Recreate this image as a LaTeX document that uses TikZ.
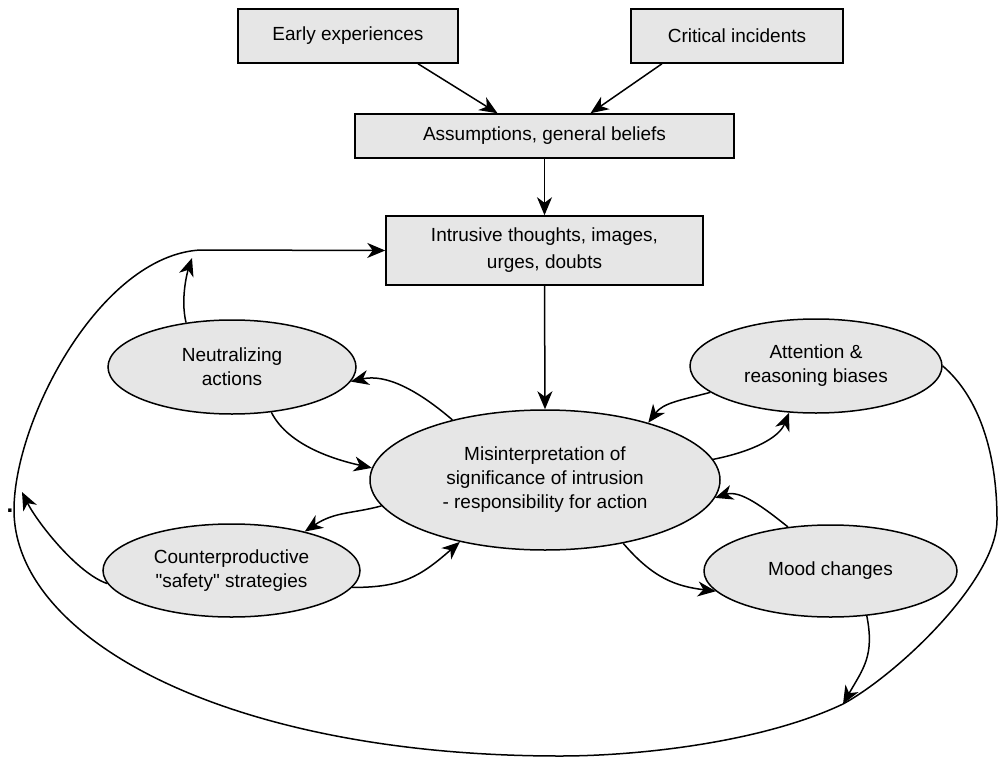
\documentclass[tikz,border=0pt]{standalone}
\usepackage{fontspec}
% a family without TeX ligatures keeps straight double quotes
\newfontfamily\plainsans{Liberation Sans}
\usetikzlibrary{arrows.meta,shapes.geometric,calc}
\definecolor{boxfill}{RGB}{230,230,230}
\begin{document}
\begin{tikzpicture}[x=1pt,y=-1pt,
  font=\plainsans\fontsize{19}{24}\selectfont,
  line width=1.5pt,
  >={Stealth[length=18pt,width=15pt,inset=5.5pt]},
  stepbox/.style={draw, fill=boxfill, rectangle, inner sep=0pt, align=center},
  bubble/.style={draw, fill=boxfill, ellipse, inner sep=0pt, align=center},
  link/.style={->}]
\useasboundingbox (0,0) rectangle (998,757);

% boxes
\node[stepbox, minimum width=220pt, minimum height=54pt] (early) at (348,36) {Early experiences};
\node[stepbox, minimum width=212pt, minimum height=54pt] (crit) at (737,36) {Critical incidents};
\node[stepbox, minimum width=379pt, minimum height=44pt] (assump) at (544.5,136) {Assumptions, general beliefs};
\node[stepbox, minimum width=317pt, minimum height=69pt,
      font=\plainsans\fontsize{19}{27}\selectfont] (intr) at (544.5,250.5) {Intrusive thoughts, images,\\urges, doubts};

% ellipses
\node[bubble, minimum width=248pt, minimum height=94pt] (neut) at (232,367) {Neutralizing\\actions};
\node[bubble, minimum width=252pt, minimum height=94pt] (att) at (816,366) {Attention \&\\reasoning biases};
\node[bubble, minimum width=350pt, minimum height=140pt] (mis) at (545,480) {Misinterpretation of\\significance of intrusion\\- responsibility for action};
\node[bubble, minimum width=257pt, minimum height=93pt] (cp) at (231.5,570.5) {Counterproductive\\"safety" strategies};
\node[bubble, minimum width=253pt, minimum height=92pt] (mood) at (830.5,571) {Mood changes};

\node[inner sep=0pt, font=\plainsans\bfseries\fontsize{24}{24}\selectfont] (dot) at (10,511) {.};

% points on the outer loop
\coordinate (l1) at (997,520);
\coordinate (l2) at (843,704);
\coordinate (l3) at (560,756);
\coordinate (l4) at (14,510);
\coordinate (l5) at (200,250);
\coordinate (nt) at (192,258);
\coordinate (ct) at (22,492);

% top part
\draw[link] ($(early.south)+(70,0)$) -- ($(assump.north)+(-47,0)$);
\draw[link] ($(crit.south)+(-75,0)$) -- ($(assump.north)+(46,0)$);
\draw[link] (assump.south) -- (intr.north);
\draw[link] (intr.south) -- (mis.north);

% around the central ellipse
\draw[link] (mis.147.7) .. controls +(-35,-30) and +(35,-8) .. (neut.-7);
\draw[link] (neut.-49.8) .. controls +(15,30) and +(-45,-10) .. (mis.176.4);
\draw[link] (mis.-171.2) .. controls +(-30,8) and +(30,-20) .. (cp.28.3);
\draw[link] (cp.-8.2) .. controls +(50,0) and +(-40,35) .. (mis.-144.7);
\draw[link] (att.-166.6) .. controls +(-30,8) and +(15,-20) .. (mis.29.6);
\draw[link] (mis.7.5) .. controls +(40,-8) and +(-10,25) .. (att.-120.6);
\draw[link] (mood.134.7) .. controls +(-25,-20) and +(25,-8) .. (mis.-6.2);
\draw[link] (mis.-39.6) .. controls +(30,35) and +(-40,-5) .. (mood.-170.7);

% outer loop back to the intrusions
\draw[link] (att.east) .. controls +(35,30) and +(0,-70) .. (l1)
  .. controls +(0,60) and +(55,-30) .. (l2)
  .. controls +(-80,38) and +(80,0) .. (l3)
  .. controls +(-330,0) and +(0,130) .. (l4)
  .. controls +(0,-90) and +(-100,6) .. (l5)
  -- (intr.west);

% feeding into the loop
\draw[link] (mood.-51.6) .. controls +(8,40) and +(20,-35) .. (l2);
\draw[link] (neut.136.2) .. controls +(-6,-25) and +(-4,12) .. (nt);
\draw[link] (cp.-174.7) .. controls +(-30,-10) and +(15,30) .. (ct);
\end{tikzpicture}
\end{document}
